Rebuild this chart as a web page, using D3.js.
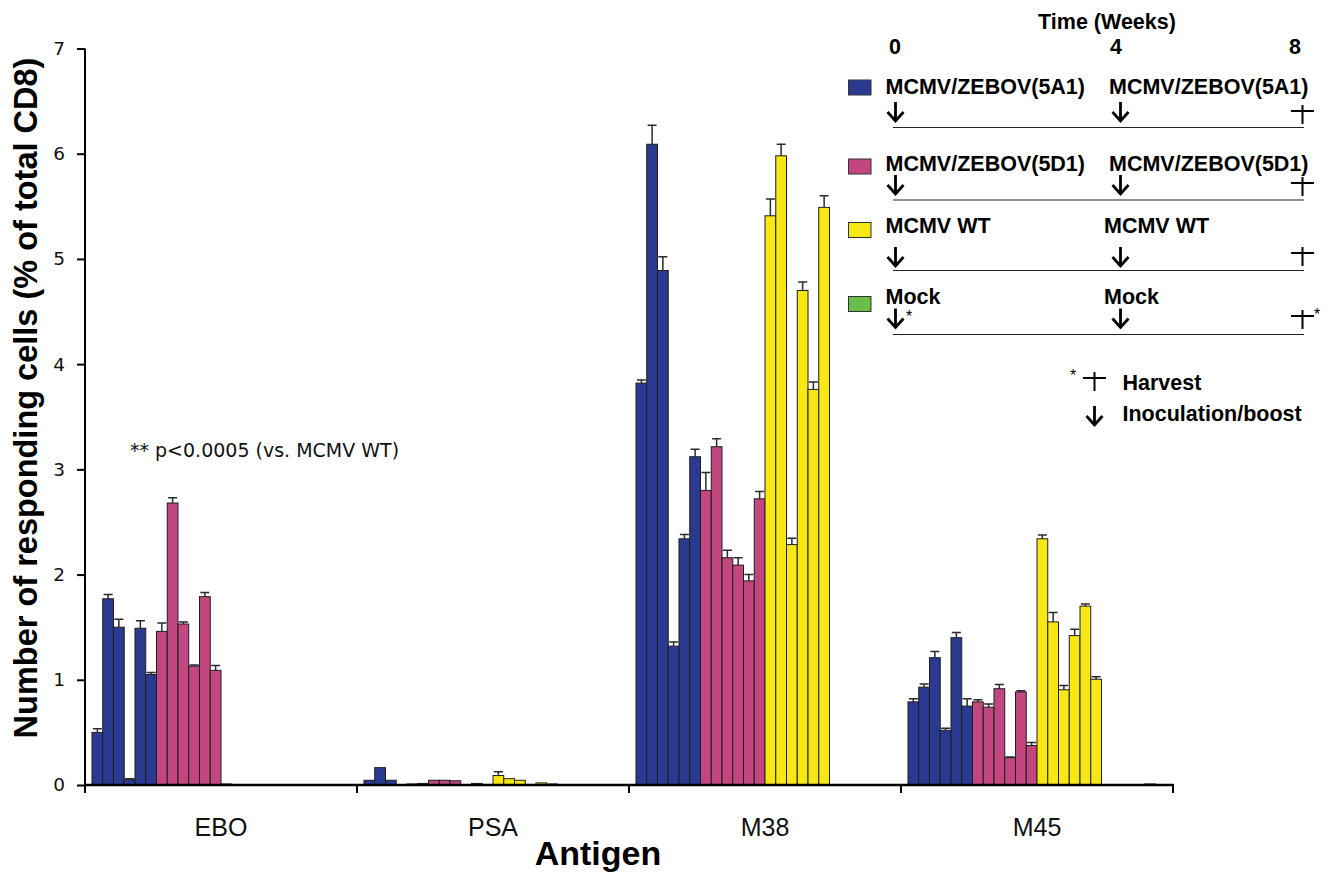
<!DOCTYPE html>
<html>
<head>
<meta charset="utf-8">
<script src="https://cdn.jsdelivr.net/npm/d3@7"></script>
<style>
  body { margin: 0; background: #fff; }
  svg { display: block; }
</style>
</head>
<body>
<div id="chart"></div>
<script>
// antigens on the x axis, 6 mice per group
var antigens = ["EBO", "PSA", "M38", "M45"]
  , groups   = ["MCMV/ZEBOV(5A1)", "MCMV/ZEBOV(5D1)", "MCMV WT", "Mock"]
  , yTicks   = [0, 1, 2, 3, 4, 5, 6, 7]
  ;

// values: one row per antigen, 6 animals each
var zebov5A1 = [
  [0.50, 1.77, 1.50, 0.05, 1.49, 1.05],
  [0.045, 0.165, 0.045, 0.005, 0.01, 0.015],
  [3.82, 6.09, 4.89, 1.32, 2.34, 3.12],
  [0.79, 0.93, 1.21, 0.52, 1.40, 0.75]
];
var zebov5A1Err = [
  [0.035, 0.04, 0.075, 0.01, 0.07, 0.02],
  [0, 0, 0, 0, 0, 0],
  [0.03, 0.18, 0.13, 0.04, 0.04, 0.07],
  [0.03, 0.03, 0.06, 0.02, 0.05, 0.07]
];
var zebov5D1 = [
  [1.46, 2.68, 1.53, 1.13, 1.79, 1.09],
  [0.045, 0.045, 0.04, 0.005, 0.015, 0.005],
  [2.80, 3.215, 2.16, 2.09, 1.94, 2.72],
  [0.79, 0.74, 0.915, 0.26, 0.885, 0.375]
];
var zebov5D1Err = [
  [0.08, 0.05, 0.02, 0.01, 0.04, 0.045],
  [0, 0, 0, 0, 0, 0],
  [0.17, 0.075, 0.07, 0.07, 0.06, 0.07],
  [0.02, 0.03, 0.04, 0.005, 0.01, 0.03]
];
var mcmvWT = [
  [0.01, 0, 0, 0, 0, 0],
  [0.09, 0.06, 0.045, 0.005, 0.02, 0.01],
  [5.41, 5.98, 2.285, 4.70, 3.76, 5.49],
  [2.34, 1.55, 0.905, 1.42, 1.70, 1.005]
];
var mcmvWTErr = [
  [0, 0, 0, 0, 0, 0],
  [0.035, 0, 0, 0, 0, 0],
  [0.16, 0.11, 0.06, 0.08, 0.07, 0.11],
  [0.035, 0.09, 0.04, 0.06, 0.02, 0.025]
];
var mock = [
  [0, 0, 0, 0, 0, 0],
  [0, 0, 0, 0, 0, 0],
  [0, 0, 0, 0, 0, 0],
  [0, 0, 0, 0, 0.01, 0]
];
var mockErr = [
  [0, 0, 0, 0, 0, 0],
  [0, 0, 0, 0, 0, 0],
  [0, 0, 0, 0, 0, 0],
  [0, 0, 0, 0, 0, 0]
];

var colors = ["#2a3a90", "#c2467f", "#f7e715", "#6abd48"];

var W = 1328, H = 874
  , margin = {left: 85, right: 155, top: 48.5, bottom: 89}
  ;

var svg = d3.select("#chart").append("svg")
  .attr("width", W)
  .attr("height", H);

var x = d3.scaleBand()
  .domain(antigens)
  .range([margin.left, W - margin.right])
  .padding(0);

var slots = d3.range(24)
  , xi = d3.scaleBand()
      .domain(slots)
      .range([0, x.bandwidth()])
      .paddingInner(0)
      .paddingOuter(0.65)
  ;

var y = d3.scaleLinear()
  .domain([0, 7])
  .range([H - margin.bottom, margin.top]);

var values = [zebov5A1, zebov5D1, mcmvWT, mock]
  , errors = [zebov5A1Err, zebov5D1Err, mcmvWTErr, mockErr]
  , bars = []
  ;

antigens.forEach(function (a, ai) {
  values.forEach(function (series, gi) {
    series[ai].forEach(function (v, k) {
      bars.push({antigen: a, group: gi, slot: gi * 6 + k, value: v, err: errors[gi][ai][k]});
    });
  });
});

var barG = svg.append("g");

barG.selectAll("rect").data(bars).enter().append("rect")
  .attr("x", function (d) { return x(d.antigen) + xi(d.slot); })
  .attr("y", function (d) { return y(d.value); })
  .attr("width", xi.bandwidth())
  .attr("height", function (d) { return y(0) - y(d.value); })
  .attr("fill", function (d) { return colors[d.group]; })
  .attr("stroke", "#1e1e1e")
  .attr("stroke-width", 1);

// upper error bars only
var withErr = bars.filter(function (d) { return d.err > 0; });

barG.selectAll("path.err").data(withErr).enter().append("path")
  .attr("class", "err")
  .attr("d", function (d) {
    var cx = x(d.antigen) + xi(d.slot) + xi.bandwidth() / 2
      , y1 = y(d.value)
      , y2 = y(d.value + d.err)
      , hw = 4.5
      ;
    return "M" + cx + "," + y1 + "V" + y2 + "M" + (cx - hw) + "," + y2 + "H" + (cx + hw);
  })
  .attr("fill", "none")
  .attr("stroke", "#2a2a2a")
  .attr("stroke-width", 1.5);

// axes
var yAxis = svg.append("g")
  .attr("transform", "translate(" + margin.left + ",0)")
  .call(d3.axisLeft(y).tickValues(yTicks).tickSize(8).tickPadding(12).tickFormat(d3.format("d")));

yAxis.select(".domain").attr("stroke-width", 2).attr("d", "M0," + (y(0) + 8) + "V" + y(7));
yAxis.selectAll(".tick line").attr("stroke-width", 2);
yAxis.selectAll("text")
  .attr("font-family", "DejaVu Sans")
  .attr("font-size", 18.5)
  .attr("fill", "#111");

var xAxis = svg.append("g")
  .attr("transform", "translate(0," + y(0) + ")")
  .call(d3.axisBottom(x).tickSize(0).tickPadding(33));

xAxis.select(".domain").attr("stroke-width", 2.5).attr("d", "M" + margin.left + ",0H" + (W - margin.right + 1));
xAxis.selectAll("text")
  .attr("font-family", "Liberation Sans, Arial, sans-serif")
  .attr("font-size", 25)
  .attr("fill", "#111");

// band boundary ticks
var bounds = antigens.slice(1).map(function (a) { return x(a); }).concat([W - margin.right]);
svg.append("g").selectAll("line").data(bounds).enter().append("line")
  .attr("x1", function (d) { return d; })
  .attr("x2", function (d) { return d; })
  .attr("y1", y(0))
  .attr("y2", y(0) + 8)
  .attr("stroke", "#000")
  .attr("stroke-width", 2);

// axis titles
svg.append("text")
  .attr("transform", "translate(37," + 398 + ") rotate(-90)")
  .attr("text-anchor", "middle")
  .attr("font-family", "Liberation Sans, Arial, sans-serif")
  .attr("font-weight", "bold")
  .attr("font-size", 32.5)
  .text("Number of responding cells (% of total CD8)");

svg.append("text")
  .attr("x", 598)
  .attr("y", 865)
  .attr("text-anchor", "middle")
  .attr("font-family", "Liberation Sans, Arial, sans-serif")
  .attr("font-weight", "bold")
  .attr("font-size", 34)
  .text("Antigen");

svg.append("text")
  .attr("x", 130)
  .attr("y", 457)
  .attr("font-family", "DejaVu Sans")
  .attr("font-size", 19)
  .attr("fill", "#111")
  .text("** p<0.0005 (vs. MCMV WT)");

// legend / vaccination schedule
var lg = svg.append("g")
  .attr("font-family", "Liberation Sans, Arial, sans-serif")
  .attr("font-weight", "bold")
  .attr("font-size", 21.5);

lg.append("text").attr("x", 1107).attr("y", 29).attr("text-anchor", "middle").text("Time (Weeks)");

var weeks = ["0", "4", "8"]
  , weekX = [895, 1116, 1295]
  ;
lg.selectAll("text.wk").data(weeks).enter().append("text")
  .attr("class", "wk")
  .attr("x", function (d, i) { return weekX[i]; })
  .attr("y", 54)
  .attr("text-anchor", "middle")
  .text(function (d) { return d; });

var rows = [
  {swatch: 80, text: 94, arrow: 102, line: 127.5, cross: 105, x2: 1109},
  {swatch: 159, text: 170.5, arrow: 175, line: 200, cross: 177, x2: 1109},
  {swatch: 222.5, text: 233, arrow: 247, line: 270.5, cross: 247, x2: 1104},
  {swatch: 296.5, text: 304, arrow: 308.5, line: 334.5, cross: 310, x2: 1104}
];

function arrow(g, cx, top) {
  g.append("path")
    .attr("d", "M" + cx + "," + top + "V" + (top + 19) +
               "M" + (cx - 8) + "," + (top + 10) + "L" + cx + "," + (top + 19) + "L" + (cx + 8) + "," + (top + 10))
    .attr("fill", "none")
    .attr("stroke", "#000")
    .attr("stroke-width", 2.8);
}
function cross(g, cx, top) {
  g.append("path")
    .attr("d", "M" + cx + "," + top + "V" + (top + 19) + "M" + (cx - 11.5) + "," + (top + 6) + "H" + (cx + 11.5))
    .attr("fill", "none")
    .attr("stroke", "#000")
    .attr("stroke-width", 2);
}

groups.forEach(function (name, i) {
  var r = rows[i];
  lg.append("rect")
    .attr("x", 848.5).attr("y", r.swatch)
    .attr("width", 22.5).attr("height", 15)
    .attr("fill", colors[i])
    .attr("stroke", "#333").attr("stroke-width", 1);
  lg.append("text").attr("x", 885.5).attr("y", r.text).text(name);
  lg.append("text").attr("x", r.x2).attr("y", r.text).text(name);
  arrow(lg, 895.5, r.arrow);
  arrow(lg, 1120.5, r.arrow);
  cross(lg, 1302.5, r.cross);
  lg.append("line")
    .attr("x1", 893).attr("x2", 1304)
    .attr("y1", r.line).attr("y2", r.line)
    .attr("stroke", "#222").attr("stroke-width", 1.2);
});

// asterisks on mock row
lg.append("text").attr("x", 906).attr("y", 322).attr("font-size", 16).attr("font-weight", "normal").text("*");
lg.append("text").attr("x", 1314).attr("y", 320).attr("font-size", 16).attr("font-weight", "normal").text("*");

// key
lg.append("text").attr("x", 1070).attr("y", 381).attr("font-size", 16).attr("font-weight", "normal").text("*");
cross(lg, 1094.5, 372);
lg.append("text").attr("x", 1122.5).attr("y", 390).text("Harvest");
arrow(lg, 1094.5, 406);
lg.append("text").attr("x", 1122.5).attr("y", 420.5).text("Inoculation/boost");
</script>
</body>
</html>
